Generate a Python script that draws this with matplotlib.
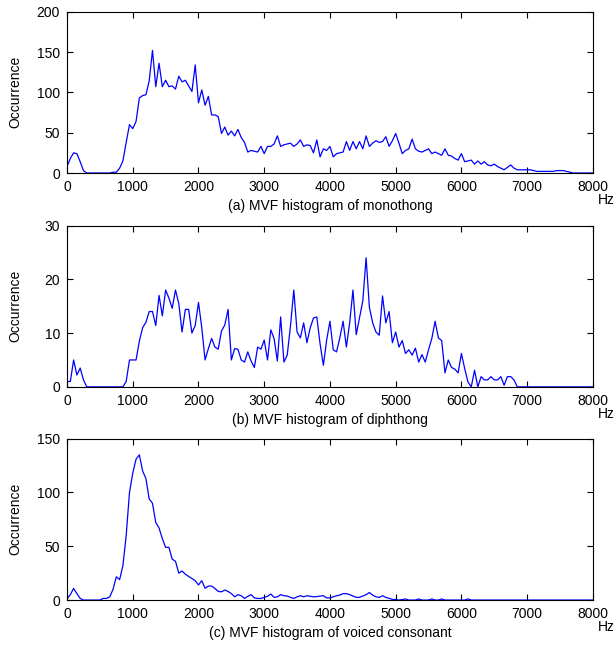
import matplotlib
matplotlib.use("Agg")
import matplotlib.pyplot as plt
import numpy as np

plt.rcParams['font.family'] = ['Liberation Sans', 'DejaVu Sans']

# bin centres, 50 Hz apart, 0 .. 8000 Hz
freq = np.arange(0, 8001, 50)

monothong = [
    8, 18, 25, 24, 14, 3, 0, 0, 0, 0, 0, 0, 0, 0, 1, 1, 6, 15, 38, 60,          # 0-950
    55, 64, 93, 96, 97, 114, 152, 107, 136, 107, 115, 107, 108, 104, 120, 113, 115, 108, 101, 134,  # 1000-1950
    87, 103, 84, 95, 72, 72, 70, 49, 57, 47, 52, 46, 54, 44, 38, 26, 28, 27, 26, 33,  # 2000-2950
    24, 33, 33, 36, 46, 33, 35, 36, 37, 33, 36, 41, 33, 35, 34, 25, 41, 20, 30, 28,  # 3000-3950
    33, 20, 24, 25, 26, 39, 28, 39, 30, 39, 30, 46, 33, 37, 40, 38, 39, 45, 33, 40,  # 4000-4950
    49, 37, 24, 28, 30, 42, 30, 27, 26, 28, 30, 24, 26, 24, 22, 30, 22, 21, 18, 16,  # 5000-5950
    24, 14, 15, 16, 11, 15, 11, 14, 10, 9, 11, 8, 6, 4, 7, 10, 6, 4, 4, 4,          # 6000-6950
    4, 4, 3, 2, 2, 2, 2, 2, 2, 3, 3, 3, 2, 1, 0, 0, 0, 0, 0, 0,                     # 7000-7950
    0]

diphthong = [
    1, 1, 5, 2.2, 3.5, 1.3, 0, 0, 0, 0, 0, 0, 0, 0, 0, 0, 0, 0, 1, 5,              # 0-950
    5, 5, 8.5, 11, 12, 14, 14, 11.4, 17, 13.2, 18, 16.5, 14.6, 18, 15.5, 10.2, 14.4, 14.4, 10, 11.4,  # 1000-1950
    15.7, 11, 5, 7.1, 9, 7.4, 7, 10.4, 11.5, 14.4, 5, 7.1, 7, 5, 4.6, 6.5, 4.8, 3.6, 7.4, 7,  # 2000-2950
    8.7, 5, 10.6, 9, 4.8, 13, 4.6, 5.9, 11.4, 18, 10.2, 9.1, 11.9, 8.2, 11, 12.8, 13, 8, 4, 8.7,  # 3000-3950
    12.2, 6.9, 6.5, 9.1, 12.2, 7.4, 11.9, 18, 9.7, 12.8, 16, 24, 14.8, 11.9, 10.2, 9.6, 16.9, 11.9, 14, 8.2,  # 4000-4950
    10.2, 7.4, 8.6, 6.2, 6.9, 5.9, 7.2, 4.6, 6, 4.6, 6.9, 9, 12.2, 9.1, 8.6, 2.6, 5, 3.6, 3.3, 2.6,  # 5000-5950
    6.2, 3.4, 0.9, 0, 3.1, 0, 1.9, 1.3, 1.3, 1.9, 1.3, 1.3, 1.9, 0.3, 1.9, 1.9, 1.3, 0, 0, 0,  # 6000-6950
    0, 0, 0, 0, 0, 0, 0, 0, 0, 0, 0, 0, 0, 0, 0, 0, 0, 0, 0, 0,                     # 7000-7950
    0]

voiced = [
    1, 5, 10.8, 6, 1.5, 0, 0, 0, 0, 0, 0, 1.5, 1.5, 3, 10, 21.6, 19, 32, 60, 100,  # 0-950
    118, 131, 135, 120, 113, 94, 90, 72, 67, 57, 49, 49, 38, 36, 25, 27, 24, 22, 20, 18,  # 1000-1950
    14, 18, 11, 13, 13, 10.8, 8, 7.7, 9.3, 8, 6, 3, 5, 4, 1.5, 3.5, 5, 2, 1.5, 1.5,  # 2000-2950
    2.5, 3.5, 5.6, 2.5, 3, 5, 4, 3.7, 2.5, 1.5, 3, 4, 3, 4, 3.5, 3, 3.2, 3.7, 4, 2,  # 3000-3950
    2, 3, 4, 4.6, 6, 6, 5, 3.7, 2.5, 2.5, 3.7, 5, 7, 4.6, 3, 2.5, 4, 2.5, 1.5, 0.6,  # 4000-4950
    0.5, 0, 0.5, 1, 0, 0, 0, 1, 0, 0, 0, 1, 0, 0, 1, 0, 0, 0, 0, 0,                 # 5000-5950
    0, 0, 1, 0, 0, 0, 0, 0, 0, 0, 0, 0, 0, 0, 0, 0, 0, 0, 0, 0,                     # 6000-6950
    0, 0, 0, 0, 0, 0, 0, 0, 0, 0, 0, 0, 0, 0, 0, 0, 0, 0, 0, 0,                     # 7000-7950
    0]

panels = [
    (monothong, 200, [0, 50, 100, 150, 200], "(a) MVF histogram of monothong", 0.733),
    (diphthong, 30, [0, 10, 20, 30], "(b) MVF histogram of diphthong", 0.403),
    (voiced, 150, [0, 50, 100, 150], "(c) MVF histogram of voiced consonant", 0.074),
]

fig = plt.figure(figsize=(6.15, 6.48), dpi=100)

for vals, ymax, yt, caption, bottom in panels:
    ax = fig.add_axes([0.109, bottom, 0.855, 0.249])
    ax.plot(freq, vals, color=(0, 0, 1), linewidth=0.9)
    ax.set_xlim(0, 8000)
    ax.set_ylim(0, ymax)
    ax.set_xticks(range(0, 8001, 1000))
    ax.set_yticks(yt)
    ax.tick_params(direction="in", top=True, right=True, length=4, width=0.8,
                   labelsize=10, pad=5)
    for s in ax.spines.values():
        s.set_linewidth(0.8)
    ax.set_ylabel("Occurrence", fontsize=10)
    ax.yaxis.set_label_coords(-0.085, 0.5)
    ax.text(0.5, -0.205, caption, transform=ax.transAxes, ha="center", va="center", fontsize=10)
    ax.text(1.026, -0.168, "Hz", transform=ax.transAxes, ha="center", va="center", fontsize=10)

fig.savefig("out.png", dpi=100)
